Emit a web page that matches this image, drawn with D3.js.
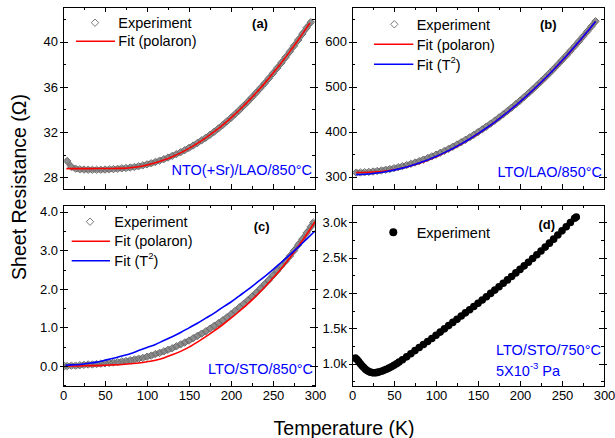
<!DOCTYPE html>
<html><head><meta charset="utf-8">
<script src="https://cdn.jsdelivr.net/npm/d3@7"></script>
<style>
html,body{margin:0;padding:0;background:#fff;}
svg{display:block;}
</style></head><body>
<svg id="chart" width="615" height="438"></svg>
<script>
// ---------------- DATA ----------------
// x axis (Temperature, K)
const xTicks = [0, 50, 100, 150, 200, 250, 300];
const xMinor = [25, 75, 125, 175, 225, 275];

// (a) NTO(+Sr)/LAO/850°C
const tExpA = [5,10,15,20,25,30,35,40,45,50,55,60,65,70,75,80,85,90,95,100,105,110,115,120,125,130,135,140,145,150,155,160,165,170,175,180,185,190,195,200,205,210,215,220,225,230,235,240,245,250,255,260,265,270,275,280,285,290,295];
const rExpA = [29.44,28.92,28.76,28.70,28.68,28.67,28.66,28.66,28.67,28.68,28.70,28.72,28.75,28.79,28.82,28.86,28.91,28.97,29.05,29.14,29.24,29.35,29.47,29.60,29.74,29.89,30.05,30.22,30.40,30.60,30.81,31.03,31.26,31.50,31.76,32.03,32.32,32.62,32.94,33.26,33.60,33.95,34.32,34.69,35.08,35.48,35.89,36.31,36.75,37.20,37.66,38.13,38.62,39.12,39.63,40.15,40.69,41.23,41.72];
const tFitA = [4,10,20,30,40,50,60,70,80,90,100,110,120,130,140,150,160,170,180,190,200,210,220,230,240,250,260,270,280,290,294];
const rPolA = [28.76,28.76,28.76,28.76,28.77,28.77,28.78,28.79,28.84,28.93,29.08,29.28,29.52,29.82,30.16,30.56,31.00,31.49,32.03,32.62,33.26,33.95,34.69,35.48,36.31,37.20,38.13,39.12,40.15,41.23,41.66];
const yTicksA = [28, 32, 36, 40];
const yMinorA = [30, 34, 38, 42];

// (b) LTO/LAO/850°C
const tExpB = [5,10,15,20,25,30,35,40,45,50,55,60,65,70,75,80,85,90,95,100,105,110,115,120,125,130,135,140,145,150,155,160,165,170,175,180,185,190,195,200,205,210,215,220,225,230,235,240,245,250,255,260,265,270,275,280,285,290];
const rExpB = [309.1,309.4,309.9,310.6,311.5,312.6,313.9,315.4,317.1,319.0,321.1,323.4,325.9,328.6,331.5,334.6,337.9,341.4,345.1,349.0,353.1,357.4,361.9,366.6,371.5,376.6,381.9,387.4,393.1,399.0,405.1,411.4,417.9,424.6,431.5,438.6,445.9,453.4,461.1,469.0,477.1,485.4,493.9,502.6,511.5,520.6,529.9,539.4,549.1,559.0,569.1,579.4,589.9,600.6,611.5,622.6,633.9,645.4];
const tFitB = [5,10,20,30,40,50,60,70,80,90,100,110,120,130,140,150,160,170,180,190,200,210,220,230,240,250,260,270,280,290];
const rPolB = [309.3,309.4,309.9,311.0,312.8,315.6,319.4,324.2,330.0,336.8,344.5,353.0,362.4,372.6,383.6,395.4,408.0,421.4,435.6,450.6,466.4,483.0,500.4,518.6,537.6,557.4,578.0,599.5,621.8,644.9];
const rT2B = [304.6,304.9,306.1,308.1,311.0,314.6,319.1,324.3,330.4,337.3,345.0,353.5,362.8,372.9,383.9,395.6,408.2,421.5,435.7,450.7,466.5,483.1,500.5,518.7,537.8,557.6,578.3,599.7,622.0,645.1];
const yTicksB = [300, 400, 500, 600];
const yMinorB = [350, 450, 550, 650];

// (c) LTO/STO/850°C
const tExpC = [2,5,10,15,20,25,30,35,40,45,50,55,60,65,70,75,80,85,90,95,100,105,110,115,120,125,130,135,140,145,150,155,160,165,170,175,180,185,190,195,200,205,210,215,220,225,230,235,240,245,250,255,260,265,270,275,280,285,290,295,298];
const rExpC = [0.00,0.00,0.01,0.01,0.02,0.03,0.04,0.04,0.05,0.06,0.07,0.08,0.09,0.10,0.12,0.13,0.15,0.17,0.19,0.21,0.24,0.27,0.31,0.34,0.38,0.42,0.46,0.51,0.56,0.61,0.66,0.72,0.78,0.84,0.90,0.97,1.04,1.11,1.18,1.26,1.34,1.43,1.52,1.61,1.70,1.80,1.90,2.01,2.12,2.23,2.35,2.47,2.60,2.72,2.85,2.99,3.14,3.29,3.45,3.61,3.72];
const tFitC = [3,10,20,30,40,50,60,70,80,90,100,110,120,130,140,150,160,170,180,190,200,210,220,230,240,250,260,270,280,290,300];
const rPolC = [0.00,0.00,0.00,0.01,0.01,0.02,0.03,0.04,0.06,0.08,0.11,0.15,0.21,0.29,0.38,0.49,0.62,0.76,0.91,1.07,1.24,1.42,1.61,1.82,2.04,2.28,2.53,2.80,3.10,3.41,3.74];
const rT2C = [0.02,0.03,0.04,0.07,0.10,0.15,0.20,0.26,0.32,0.40,0.48,0.56,0.66,0.76,0.87,0.99,1.11,1.24,1.37,1.52,1.66,1.82,1.98,2.15,2.32,2.50,2.69,2.88,3.08,3.29,3.50];
const yTicksC = [0, 1, 2, 3, 4];
const yMinorC = [-0.5, 0.5, 1.5, 2.5, 3.5];

// (d) LTO/STO/750°C, 5X10^-3 Pa
const tExpD = [4,6,8,10,12,14,16,18,20,22,24,26,28,30,32,35,38,41,44,47,50,53,56,60,65,70,75,80,85,90,95,100,105,110,115,120,125,130,135,140,145,150,155,160,165,170,175,180,185,190,195,200,205,210,215,220,225,230,235,240,245,250,255,260,265,267];
const rExpD = [1080,1060,1030,1000,970,945,922,903,890,880,874,872,873,877,883,893,906,921,938,957,978,1000,1023,1055,1097,1141,1185,1229,1271,1313,1357,1402,1447,1493,1539,1584,1629,1674,1719,1764,1810,1856,1902,1948,1994,2041,2089,2137,2185,2234,2284,2334,2384,2435,2487,2540,2594,2649,2705,2762,2820,2879,2938,2998,3058,3075];
const yTicksD = [1000, 1500, 2000, 2500, 3000];
const yMinorD = [750, 1250, 1750, 2250, 2750];

// ---------------- DRAWING ----------------
const FONT = '"Liberation Sans", Arial, Helvetica, sans-serif';
const svg = d3.select("#chart").attr("font-family", FONT);
const defs = svg.append("defs");
const GRAY_BAND = "#8d8d8d", GRAY_EDGE = "#6c6c6c";
const RED = "#ff0000", BLUE = "#0000ff";
const diamond = "M0,-3.7L3.7,0L0,3.7L-3.7,0Z";

const zip = (t, r) => t.map((v, i) => [v, r[i]]);

function styleAxis(sel) {
  sel.select(".domain").remove();
  sel.attr("font-family", FONT).attr("font-size", 13).attr("color", "#000");
  sel.selectAll("line").attr("stroke-width", 1).attr("shape-rendering", "crispEdges");
}

function panel(cfg) {
  const g = svg.append("g").attr("transform", `translate(${cfg.left},${cfg.top})`);
  const x = d3.scaleLinear().domain([0, 300]).range([0, cfg.w]);
  const y = d3.scaleLinear().domain(cfg.yDomain).range([cfg.h, 0]);

  defs.append("clipPath").attr("id", "clip-" + cfg.key)
    .append("rect").attr("width", cfg.w).attr("height", cfg.h);

  const plot = g.append("g").attr("clip-path", `url(#clip-${cfg.key})`);
  const line = d3.line().x(d => x(d[0])).y(d => y(d[1])).curve(d3.curveMonotoneX);

  if (cfg.exp && cfg.marker === "diamond") {
    const pts = zip(cfg.exp[0], cfg.exp[1]);
    plot.append("path").datum(pts).attr("d", line)
      .attr("fill", "none").attr("stroke", GRAY_BAND).attr("stroke-width", 5.5)
      .attr("stroke-linejoin", "round").attr("stroke-linecap", "round");
    plot.selectAll(null).data(pts).enter().append("path")
      .attr("d", diamond)
      .attr("transform", d => `translate(${x(d[0])},${y(d[1])})`)
      .attr("fill", "none").attr("stroke", GRAY_EDGE).attr("stroke-width", 1);
  }
  if (cfg.exp && cfg.marker === "circle") {
    const pts = zip(cfg.exp[0], cfg.exp[1]);
    plot.selectAll(null).data(pts).enter().append("circle")
      .attr("cx", d => x(d[0])).attr("cy", d => y(d[1])).attr("r", 3.8)
      .attr("fill", "#000");
  }
  (cfg.fits || []).forEach(f => {
    plot.append("path").datum(zip(f.t, f.r)).attr("d", line)
      .attr("fill", "none").attr("stroke", f.color).attr("stroke-width", 1.6);
  });

  // axes
  const bot = g.append("g").attr("transform", `translate(0,${cfg.h})`);
  bot.append("g").call(d3.axisBottom(x).tickValues(xTicks).tickSizeInner(-5).tickSizeOuter(0)
    .tickPadding(5).tickFormat(cfg.showX ? d3.format("d") : () => "")).call(styleAxis);
  bot.append("g").call(d3.axisBottom(x).tickValues(xMinor).tickSizeInner(-3).tickSizeOuter(0)
    .tickFormat(() => "")).call(styleAxis);
  g.append("g").call(d3.axisTop(x).tickValues(xTicks).tickSizeInner(-5).tickSizeOuter(0)
    .tickFormat(() => "")).call(styleAxis);
  g.append("g").call(d3.axisTop(x).tickValues(xMinor).tickSizeInner(-3).tickSizeOuter(0)
    .tickFormat(() => "")).call(styleAxis);

  g.append("g").call(d3.axisLeft(y).tickValues(cfg.yTicks).tickSizeInner(3).tickSizeOuter(0)
    .tickPadding(2).tickFormat(cfg.fmt)).call(styleAxis);
  g.append("g").call(d3.axisLeft(y).tickValues(cfg.yTicks).tickSizeInner(-5).tickSizeOuter(0)
    .tickFormat(() => "")).call(styleAxis);
  g.append("g").call(d3.axisLeft(y).tickValues(cfg.yMinor).tickSizeInner(-3).tickSizeOuter(0)
    .tickFormat(() => "")).call(styleAxis);
  const rt = g.append("g").attr("transform", `translate(${cfg.w},0)`);
  rt.append("g").call(d3.axisRight(y).tickValues(cfg.yTicks).tickSizeInner(3).tickSizeOuter(0)
    .tickFormat(() => "")).call(styleAxis);
  rt.append("g").call(d3.axisRight(y).tickValues(cfg.yTicks).tickSizeInner(-5).tickSizeOuter(0)
    .tickFormat(() => "")).call(styleAxis);
  rt.append("g").call(d3.axisRight(y).tickValues(cfg.yMinor).tickSizeInner(-3).tickSizeOuter(0)
    .tickFormat(() => "")).call(styleAxis);

  g.append("rect").attr("x", 0).attr("y", 0).attr("width", cfg.w).attr("height", cfg.h)
    .attr("fill", "none").attr("stroke", "#000").attr("stroke-width", 1)
    .attr("shape-rendering", "crispEdges");

  // legend
  const L = cfg.legend;
  const lg = g.append("g").attr("font-size", 14.5).attr("fill", "#000");
  if (cfg.marker === "diamond") {
    lg.append("path").attr("d", diamond).attr("transform", `translate(${L.mx},${L.y0})`)
      .attr("fill", "none").attr("stroke", "#7a7a7a").attr("stroke-width", 1);
  } else {
    lg.append("circle").attr("cx", L.mx).attr("cy", L.y0).attr("r", 4).attr("fill", "#000");
  }
  lg.append("text").attr("x", L.tx).attr("y", L.y0 + 5.2).text("Experiment");
  (cfg.fits || []).forEach((f, i) => {
    const yy = L.y0 + L.dy * (i + 1);
    lg.append("line").attr("x1", L.lx1).attr("x2", L.lx2).attr("y1", yy).attr("y2", yy)
      .attr("stroke", f.color).attr("stroke-width", 1.6);
    const t = lg.append("text").attr("x", L.tx).attr("y", yy + 5.2);
    if (f.sup) {
      t.append("tspan").text(f.label);
      t.append("tspan").attr("font-size", 9.5).attr("dy", -6.5).text(f.sup);
      t.append("tspan").attr("dy", 6.5).text(f.after);
    } else {
      t.text(f.label);
    }
  });
  g.append("text").attr("x", cfg.tag[0]).attr("y", cfg.tag[1] + 4.6)
    .attr("text-anchor", "middle").attr("font-size", 13).attr("font-weight", "bold")
    .text("(" + cfg.key + ")");

  // sample annotation
  const an = g.append("g").attr("font-size", 14.5).attr("fill", BLUE);
  cfg.notes.forEach(n => {
    const t = an.append("text").attr("x", n.x).attr("y", n.y + 5.2)
      .attr("text-anchor", n.anchor || "end");
    if (n.sup) {
      t.append("tspan").text(n.text);
      t.append("tspan").attr("font-size", 9.5).attr("dy", -6.5).text(n.sup);
      t.append("tspan").attr("dy", 6.5).text(n.after);
    } else t.text(n.text);
  });
}

const fmtInt = d3.format("d");
const fmt1 = d3.format(".1f");
const fmtK = d => d3.format(".1f")(d / 1000) + "k";

panel({
  key: "a", left: 63, top: 7, w: 252, h: 182, yDomain: [26.96, 43.07],
  yTicks: yTicksA, yMinor: yMinorA, fmt: fmtInt, showX: false,
  exp: [tExpA, rExpA], marker: "diamond",
  fits: [{t: tFitA, r: rPolA, color: RED, label: "Fit (polaron)"}],
  legend: {mx: 32, y0: 15.7, tx: 55.3, lx1: 13, lx2: 52, dy: 18.5},
  tag: [197, 16.3],
  notes: [{x: 249, y: 163, text: "NTO(+Sr)/LAO/850°C"}]
});
panel({
  key: "b", left: 352, top: 7, w: 252, h: 182, yDomain: [272.7, 677.1],
  yTicks: yTicksB, yMinor: yMinorB, fmt: fmtInt, showX: false,
  exp: [tExpB, rExpB], marker: "diamond",
  fits: [{t: tFitB, r: rPolB, color: RED, label: "Fit (polaron)"},
         {t: tFitB, r: rT2B, color: BLUE, label: "Fit (T", sup: "2", after: ")"}],
  legend: {mx: 42.3, y0: 17.3, tx: 64.7, lx1: 22, lx2: 61.3, dy: 20},
  tag: [196.3, 17.3],
  notes: [{x: 250, y: 164.7, text: "LTO/LAO/850°C"}]
});
panel({
  key: "c", left: 63, top: 205, w: 252, h: 181, yDomain: [-0.518, 4.174],
  yTicks: yTicksC, yMinor: yMinorC, fmt: fmt1, showX: true,
  exp: [tExpC, rExpC], marker: "diamond",
  fits: [{t: tFitC, r: rPolC, color: RED, label: "Fit (polaron)"},
         {t: tFitC, r: rT2C, color: BLUE, label: "Fit (T", sup: "2", after: ")"}],
  legend: {mx: 27, y0: 16.7, tx: 51.3, lx1: 8.7, lx2: 47, dy: 19.5},
  tag: [198.7, 21.7],
  notes: [{x: 250, y: 163.3, text: "LTO/STO/850°C"}]
});
panel({
  key: "d", left: 352, top: 205, w: 252, h: 181, yDomain: [684.6, 3244.7],
  yTicks: yTicksD, yMinor: yMinorD, fmt: fmtK, showX: true,
  exp: [tExpD, rExpD], marker: "circle",
  fits: [],
  legend: {mx: 41.3, y0: 27.3, tx: 64.7, lx1: 0, lx2: 0, dy: 0},
  tag: [194.7, 19.3],
  notes: [{x: 144, y: 145, text: "LTO/STO/750°C", anchor: "start"},
          {x: 144, y: 165.7, text: "5X10", sup: "-3", after: " Pa", anchor: "start"}]
});

// axis titles
svg.append("text").attr("x", 344).attr("y", 435).attr("text-anchor", "middle")
  .attr("font-size", 19.5).attr("fill", "#000").text("Temperature (K)");
svg.append("text").attr("transform", "translate(26,187) rotate(-90)")
  .attr("text-anchor", "middle").attr("font-size", 19.5).attr("fill", "#000")
  .text("Sheet Resistance (Ω)");
</script>
</body></html>
